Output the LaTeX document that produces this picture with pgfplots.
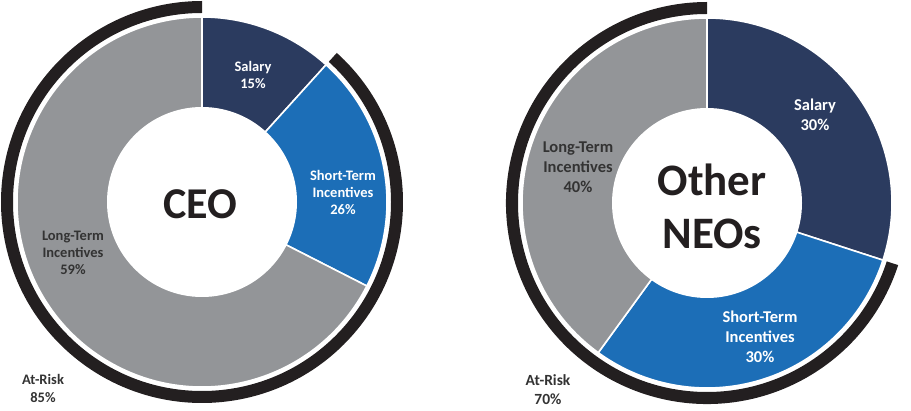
\documentclass[border=0pt]{standalone}
\usepackage{pgfplots}
\pgfplotsset{compat=1.18}
\usepackage{pgfplotstable}
\usepackage{fontspec}
\setmainfont{Carlito}
\usetikzlibrary{calc}

\definecolor{navy}{HTML}{2B3B5F}
\definecolor{midblue}{HTML}{1C6EB7}
\definecolor{slicegray}{HTML}{939598}
\definecolor{ringblack}{HTML}{231F20}
\definecolor{labeldark}{HTML}{333333}

% shares of the ring as drawn (percent of 360 degrees), clockwise from 12 o'clock
\pgfplotstableread{
slice  share
Salary 11.7
Short  20.8
Long   67.5
}\ceodata
\pgfplotstableread{
slice  share
Salary 30
Short  30
Long   40
}\neodata

% compute boundary angles (outside the axis, so values are fixed)
\newcommand{\angles}[2]{% #1 table, #2 prefix
  \pgfplotstablegetelem{0}{share}\of#1\let\tmpa\pgfplotsretval
  \pgfplotstablegetelem{1}{share}\of#1\let\tmpb\pgfplotsretval
  \pgfmathsetmacro\tmpB{90-3.6*\tmpa}
  \pgfmathsetmacro\tmpC{\tmpB-3.6*\tmpb}
  \expandafter\xdef\csname #2B\endcsname{\tmpB}
  \expandafter\xdef\csname #2C\endcsname{\tmpC}
}
\angles{\ceodata}{ceo}
\angles{\neodata}{neo}

\newcommand{\donut}[4]{% #1 cx, #2 cy, #3 angle B, #4 angle C
  \fill[navy, draw=white, line width=1.6pt] (axis cs:#1,#2) -- ++(90:185pt) arc[start angle=90, end angle=#3, radius=185pt] -- cycle;
  \fill[midblue, draw=white, line width=1.6pt] (axis cs:#1,#2) -- ++(#3:185pt) arc[start angle=#3, end angle=#4, radius=185pt] -- cycle;
  \fill[slicegray, draw=white, line width=1.6pt] (axis cs:#1,#2) -- ++(#4:185pt) arc[start angle=#4, end angle=-270, radius=185pt] -- cycle;
  \fill[white] (axis cs:#1,#2) circle[radius=95pt];
  \fill[ringblack] ($(axis cs:#1,#2)+(#3:201pt)$) arc[start angle=#3, end angle=-270, radius=201pt]
     -- ($(axis cs:#1,#2)+(-270:189pt)$) arc[start angle=-270, end angle=#3, radius=189pt] -- cycle;
}

\begin{document}
\begin{tikzpicture}
\begin{axis}[
  x=1pt, y=1pt,
  xmin=0, xmax=911, ymin=0, ymax=410,
  hide axis, clip=false,
]
\coordinate (ll) at (axis cs:0,0);
\coordinate (ur) at (axis cs:911,410);
\donut{202}{208}{\ceoB}{\ceoC}
\donut{707}{207}{\neoB}{\neoC}

% CEO labels
\node[font={\fontsize{14.5}{17}\selectfont\bfseries}, text=white, align=center] at (axis cs:253,335) {Salary\\15\%};
\node[font={\fontsize{14.5}{17}\selectfont\bfseries}, text=white, align=center] at (axis cs:343,218) {Short-Term\\Incentives\\26\%};
\node[font={\fontsize{14.5}{17}\selectfont\bfseries}, text=labeldark, align=center] at (axis cs:73,157) {Long-Term\\Incentives\\59\%};
\node[font={\fontsize{44}{50}\selectfont\bfseries}, text=ringblack, align=center] at (axis cs:200,205.5) {CEO};
\node[font={\fontsize{14.5}{18}\selectfont\bfseries}, text=labeldark, align=center] at (axis cs:43,22) {At-Risk\\85\%};

% Other NEOs labels
\node[font={\fontsize{16.5}{20}\selectfont\bfseries}, text=white, align=center] at (axis cs:815,295) {Salary\\30\%};
\node[font={\fontsize{16.5}{20}\selectfont\bfseries}, text=white, align=center] at (axis cs:760,73) {Short-Term\\Incentives\\30\%};
\node[font={\fontsize{16.5}{20}\selectfont\bfseries}, text=labeldark, align=center] at (axis cs:578,243) {Long-Term\\Incentives\\40\%};
\node[font={\fontsize{45}{53}\selectfont\bfseries}, text=ringblack, align=center] at (axis cs:712,204) {Other\\NEOs};
\node[font={\fontsize{15.5}{19}\selectfont\bfseries}, text=labeldark, align=center] at (axis cs:548,20) {At-Risk\\70\%};
\end{axis}
\pgfresetboundingbox
\useasboundingbox (ll) rectangle (ur);
\end{tikzpicture}
\end{document}
